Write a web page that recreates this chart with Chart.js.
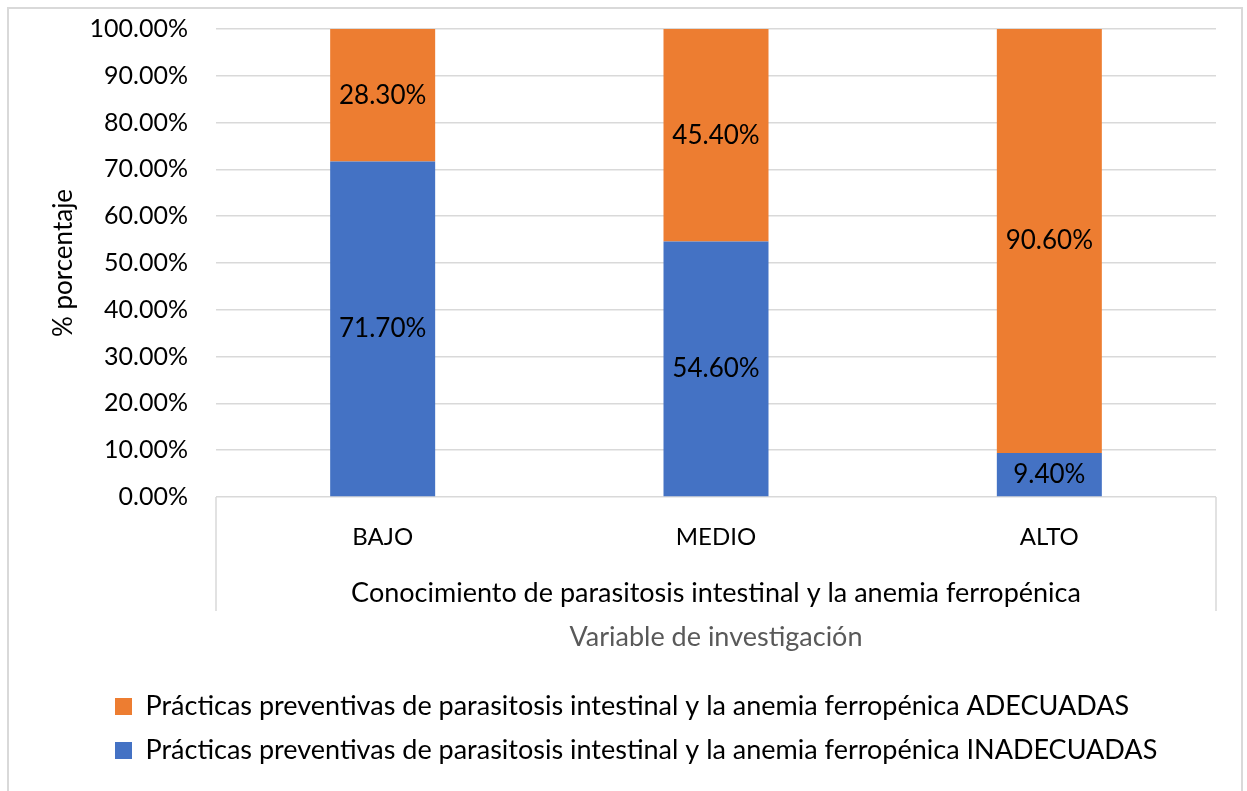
<!DOCTYPE html>
<html lang="es">
<head>
<meta charset="UTF-8">
<title>Prácticas preventivas</title>
<script src="https://cdn.jsdelivr.net/npm/chart.js"></script>
<style>
  html, body { margin: 0; padding: 0; background: #fff; }
  #wrap { width: 1247px; height: 791px; position: relative; }
</style>
</head>
<body>
<div id="wrap"><canvas id="chart"></canvas></div>
<script>
const categories = ['BAJO', 'MEDIO', 'ALTO'];
const inadecuadas = [71.7, 54.6, 9.4];
const adecuadas = [28.3, 45.4, 90.6];
const yTicks = [0, 10, 20, 30, 40, 50, 60, 70, 80, 90, 100];

const groupLabel = 'Conocimiento de parasitosis intestinal y la anemia ferropénica';
const xTitle = 'Variable de investigación';
const yTitle = '% porcentaje';

const FONT = 'Lato, "Open Sans", sans-serif';

// value labels in the middle of each segment
const segmentLabels = {
    id: 'segmentLabels',
    afterDatasetsDraw(chart) {
        const ctx = chart.ctx;
        ctx.save();
        ctx.font = '26px ' + FONT;
        ctx.fillStyle = '#000';
        ctx.textAlign = 'center';
        ctx.textBaseline = 'middle';
        chart.data.datasets.forEach((ds, i) => {
            chart.getDatasetMeta(i).data.forEach((bar, j) => {
                const p = bar.getCenterPoint();
                ctx.fillText(ds.data[j].toFixed(2) + '%', p.x, p.y);
            });
        });
        ctx.restore();
    }
};

// frame, group box, titles
const extras = {
    id: 'extras',
    afterLayout(chart) {
        // legend sits under the y axis labels, not at the canvas edge
        chart.legend.left = 98;
    },
    beforeDraw(chart) {
        const ctx = chart.ctx;
        ctx.save();
        ctx.strokeStyle = '#d9d9d9';
        ctx.lineWidth = 2;
        ctx.strokeRect(8, 8, 1234, 800);
        ctx.restore();
    },
    afterDraw(chart) {
        const ctx = chart.ctx;
        const a = chart.chartArea;
        ctx.save();
        ctx.strokeStyle = '#d9d9d9';
        ctx.lineWidth = 1.5;
        ctx.beginPath();
        ctx.moveTo(a.left, a.bottom);
        ctx.lineTo(a.left, a.bottom + 114);
        ctx.moveTo(a.right, a.bottom);
        ctx.lineTo(a.right, a.bottom + 114);
        ctx.stroke();

        const cx = (a.left + a.right) / 2;
        ctx.textAlign = 'center';
        ctx.textBaseline = 'middle';
        ctx.font = '27px ' + FONT;
        ctx.fillStyle = '#000';
        ctx.fillText(groupLabel, cx, a.bottom + 96);
        ctx.fillStyle = '#595959';
        ctx.fillText(xTitle, cx, a.bottom + 140);

        ctx.fillStyle = '#000';
        ctx.font = '26px ' + FONT;
        ctx.translate(64, (a.top + a.bottom) / 2);
        ctx.rotate(-Math.PI / 2);
        ctx.fillText(yTitle, 0, 0);
        ctx.restore();
    }
};

new Chart(document.getElementById('chart'), {
    type: 'bar',
    data: {
        labels: categories,
        datasets: [
            {
                label: 'Prácticas preventivas de parasitosis intestinal y la anemia ferropénica INADECUADAS',
                data: inadecuadas,
                backgroundColor: '#4472C4',
                categoryPercentage: 1,
                barPercentage: 0.315
            },
            {
                label: 'Prácticas preventivas de parasitosis intestinal y la anemia ferropénica ADECUADAS',
                data: adecuadas,
                backgroundColor: '#ED7D31',
                categoryPercentage: 1,
                barPercentage: 0.315
            }
        ]
    },
    options: {
        responsive: true,
        maintainAspectRatio: false,
        animation: false,
        layout: { padding: { left: 0, right: 31, top: 29, bottom: 17 } },
        scales: {
            x: {
                stacked: true,
                grid: { display: false },
                border: { display: false },
                ticks: { color: '#000', font: { family: FONT, size: 24 }, padding: 18 },
                afterFit(scale) { scale.height = 179; }
            },
            y: {
                stacked: true,
                min: 0,
                max: 100,
                afterBuildTicks(scale) { scale.ticks = yTicks.map(v => ({ value: v })); },
                grid: { color: '#d9d9d9', lineWidth: 1.5, drawTicks: false },
                border: { display: false },
                ticks: {
                    color: '#000',
                    font: { family: FONT, size: 25 },
                    padding: 28,
                    callback: v => v.toFixed(2) + '%'
                },
                afterFit(scale) {
                    scale.width = 216;
                    scale.paddingTop = 0;
                    scale.paddingBottom = 0;
                }
            }
        },
        plugins: {
            legend: {
                position: 'bottom',
                align: 'start',
                reverse: true,
                labels: {
                    color: '#000',
                    font: { family: FONT, size: 27 },
                    boxWidth: 17,
                    boxHeight: 17,
                    padding: 17
                }
            },
            tooltip: { enabled: false }
        }
    },
    plugins: [segmentLabels, extras]
});
</script>
</body>
</html>
